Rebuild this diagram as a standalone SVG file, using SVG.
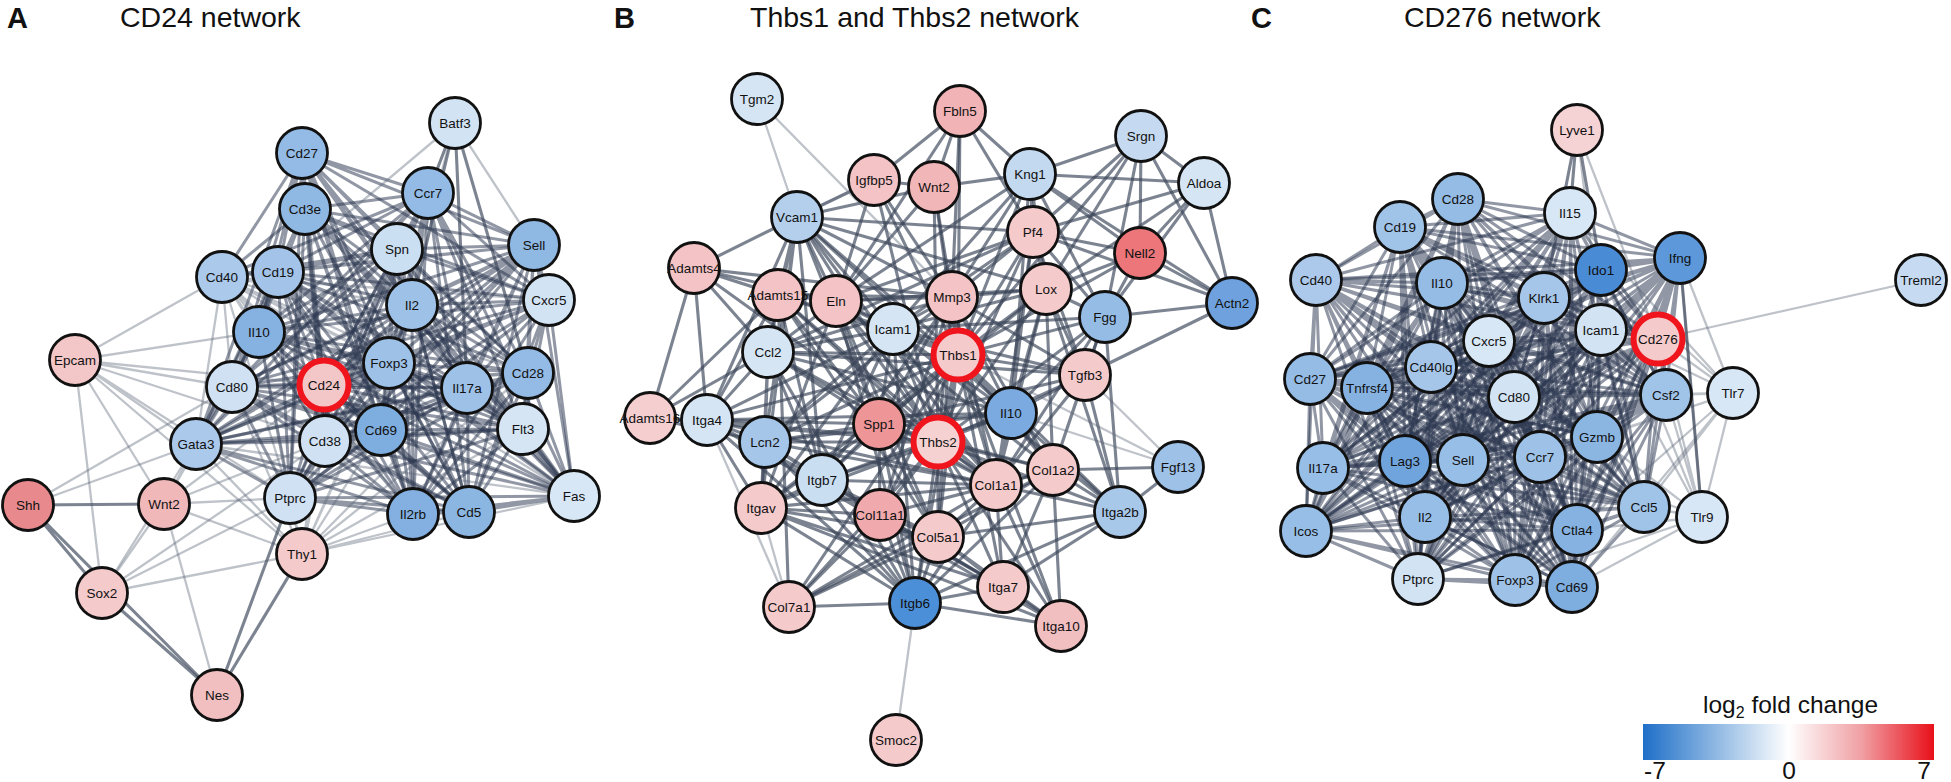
<svg xmlns="http://www.w3.org/2000/svg" width="1951" height="782" viewBox="0 0 1951 782">
<defs>
<linearGradient id="lfc" x1="0" y1="0" x2="1" y2="0">
<stop offset="0" stop-color="#1f6fc8"/>
<stop offset="0.25" stop-color="#8fb8e3"/>
<stop offset="0.5" stop-color="#ffffff"/>
<stop offset="0.75" stop-color="#f0a0a4"/>
<stop offset="1" stop-color="#e8101a"/>
</linearGradient>
<style>
text{font-family:"Liberation Sans",Arial,Helvetica,sans-serif;fill:#111}
.n circle{stroke:#111;stroke-width:2.8}
.n circle.hl{stroke:#f0141c;stroke-width:6}
.n text{font-size:13.5px;text-anchor:middle}
.ttl{font-size:28.5px}
.lt{font-size:29px;font-weight:bold}
.k{fill:none;stroke:#2c3850;stroke-opacity:.52;stroke-width:3;stroke-linejoin:round}
.m{fill:none;stroke:#3a4458;stroke-opacity:.66;stroke-width:3.1;stroke-linejoin:round}
.l{fill:none;stroke:#5d6677;stroke-opacity:.4;stroke-width:2.3;stroke-linejoin:round}
.leg{font-size:24.5px}
</style>
</defs>
<rect width="1951" height="782" fill="#fff"/>
<g id="titles">
<text class="lt" x="7" y="28">A</text>
<text class="ttl" x="120" y="27">CD24 network</text>
<text class="lt" x="614" y="28">B</text>
<text class="ttl" x="750" y="27">Thbs1 and Thbs2 network</text>
<text class="lt" x="1251" y="28">C</text>
<text class="ttl" x="1404" y="27">CD276 network</text>
</g>
<g id="connectors">
<g id="edges-A">
<path class="k" d="M305 209L302 153L428 193M397 249L302 153L534 245M222 277L302 153L278 272M412 305L302 153L549 300M259 332L302 153L389 363M528 373L302 153L232 387M324 385L302 153L467 388M325 441L302 153L381 430M523 429L302 153L290 498M413 514L302 153L469 512M574 496L302 153L196 444"/>
<path class="k" d="M428 193L305 209L397 249M534 245L305 209L222 277M278 272L305 209L412 305M549 300L305 209L259 332M389 363L305 209L528 373M232 387L305 209L324 385M467 388L305 209L325 441M381 430L305 209L523 429M290 498L305 209L413 514M469 512L305 209L574 496M196 444L305 209"/>
<path class="k" d="M397 249L428 193L534 245M222 277L428 193L278 272M412 305L428 193L549 300M259 332L428 193L389 363M528 373L428 193L232 387M324 385L428 193L467 388M325 441L428 193L381 430M523 429L428 193L290 498M413 514L428 193L469 512M574 496L428 193L196 444"/>
<path class="k" d="M534 245L397 249L222 277M278 272L397 249L412 305M549 300L397 249L259 332M389 363L397 249L528 373M232 387L397 249L324 385M467 388L397 249L325 441M381 430L397 249L523 429M290 498L397 249L413 514M469 512L397 249L574 496M196 444L397 249"/>
<path class="k" d="M222 277L534 245L278 272M412 305L534 245L549 300M259 332L534 245L389 363M528 373L534 245L232 387M324 385L534 245L467 388M325 441L534 245L381 430M523 429L534 245L290 498M413 514L534 245L469 512M574 496L534 245L196 444"/>
<path class="l" d="M278 272L222 277L412 305M549 300L222 277L259 332M389 363L222 277L528 373M232 387L222 277L324 385M467 388L222 277L325 441M381 430L222 277L523 429M290 498L222 277L413 514M469 512L222 277L574 496M196 444L222 277"/>
<path class="k" d="M412 305L278 272L549 300M259 332L278 272L389 363M528 373L278 272L232 387M324 385L278 272L467 388M325 441L278 272L381 430M523 429L278 272L290 498M413 514L278 272L469 512M574 496L278 272L196 444"/>
<path class="k" d="M549 300L412 305L259 332M389 363L412 305L528 373M232 387L412 305L324 385M467 388L412 305L325 441M381 430L412 305L523 429M290 498L412 305L413 514M469 512L412 305L574 496M196 444L412 305"/>
<path class="k" d="M259 332L549 300L389 363M528 373L549 300L232 387M324 385L549 300L467 388M325 441L549 300L381 430M523 429L549 300L290 498M413 514L549 300L469 512M574 496L549 300L196 444"/>
<path class="k" d="M389 363L259 332L528 373M232 387L259 332L324 385M467 388L259 332L325 441M381 430L259 332L523 429M290 498L259 332L413 514M469 512L259 332L574 496M196 444L259 332"/>
<path class="k" d="M528 373L389 363L232 387M324 385L389 363L467 388M325 441L389 363L381 430M523 429L389 363L290 498M413 514L389 363L469 512M574 496L389 363L196 444"/>
<path class="k" d="M232 387L528 373L324 385M467 388L528 373L325 441M381 430L528 373L523 429M290 498L528 373L413 514M469 512L528 373L574 496M196 444L528 373"/>
<path class="k" d="M324 385L232 387L467 388M325 441L232 387L381 430M523 429L232 387L290 498M413 514L232 387L469 512M574 496L232 387L196 444"/>
<path class="k" d="M467 388L324 385L325 441M381 430L324 385L523 429M290 498L324 385L413 514M469 512L324 385L574 496M196 444L324 385"/>
<path class="k" d="M325 441L467 388L381 430M523 429L467 388L290 498M413 514L467 388L469 512M574 496L467 388L196 444"/>
<path class="k" d="M381 430L325 441L523 429M290 498L325 441L413 514M469 512L325 441L574 496M196 444L325 441"/>
<path class="k" d="M523 429L381 430L290 498M413 514L381 430L469 512M574 496L381 430L196 444"/>
<path class="k" d="M290 498L523 429L413 514M469 512L523 429L574 496M196 444L523 429"/>
<path class="k" d="M413 514L290 498L469 512M574 496L290 498L196 444"/>
<path class="k" d="M469 512L413 514L574 496M196 444L413 514M574 496L469 512L196 444"/>
<path class="l" d="M196 444L574 496"/>
<path class="m" d="M428 193L455 123L412 305M528 373L455 123L467 388"/>
<path class="l" d="M278 272L455 123L534 245M389 363L455 123"/>
<path class="l" d="M222 277L75 360L232 387M324 385L75 360L196 444M164 504L75 360L102 593M290 498L75 360L325 441M259 332L75 360L302 554"/>
<path class="m" d="M164 504L28 505L102 593M217 695L28 505"/>
<path class="l" d="M196 444L28 505L232 387"/>
<path class="l" d="M196 444L164 504L232 387M290 498L164 504L302 554M102 593L164 504L217 695M325 441L164 504L324 385"/>
<path class="l" d="M196 444L102 593L290 498M302 554L102 593M325 441L102 593"/>
<path class="m" d="M102 593L217 695L290 498M302 554L217 695"/>
<path class="l" d="M325 441L302 554L381 430M413 514L302 554L469 512M389 363L302 554L324 385M467 388L302 554L574 496M523 429L302 554L528 373M196 444L302 554L290 498M412 305L302 554L232 387M259 332L302 554"/>
</g>
<g id="edges-B">
<path class="m" d="M960 111L958 355L934 187M874 180L958 355L1030 174M1033 232L958 355L952 297M1046 289L958 355L836 301M893 329L958 355L797 217M778 295L958 355L768 352M1085 375L958 355L1105 317M938 442L958 355L879 424M1011 413L958 355L996 485M1053 470L958 355L938 537M880 515L958 355L822 480M765 442L958 355L707 420M761 508L958 355L915 603M1003 587L958 355L1061 626M1120 512L958 355L789 607M1141 136L958 355L1140 253"/>
<path class="m" d="M952 297L938 442L836 301M893 329L938 442L768 352M879 424L938 442L1011 413M996 485L938 442L1053 470M938 537L938 442L880 515M822 480L938 442L765 442M707 420L938 442L761 508M915 603L938 442L1003 587M1061 626L938 442L1120 512M789 607L938 442L1085 375M1046 289L938 442L1033 232M797 217L938 442L778 295M650 418L938 442L1105 317M934 187L938 442L874 180"/>
<path class="m" d="M893 329L879 424L797 217M768 352L879 424L765 442M707 420L879 424L822 480M1011 413L879 424L952 297M836 301L879 424L996 485M1053 470L879 424L880 515M938 537L879 424L761 508M915 603L879 424L1085 375M1046 289L879 424L778 295"/>
<path class="m" d="M836 301L952 297L893 329M797 217L952 297L768 352M1046 289L952 297L1033 232M934 187L952 297L874 180M996 485L952 297L1053 470M1011 413L952 297L1085 375M765 442L952 297L822 480M778 295L952 297L694 268M960 111L952 297L1030 174M938 537L952 297L880 515"/>
<path class="m" d="M797 217L893 329L768 352M765 442L893 329L707 420M822 480L893 329L1011 413M836 301L893 329L778 295M1033 232L893 329L1105 317M1030 174L893 329L761 508M915 603L893 329L996 485M1046 289L893 329L1085 375M1120 512L893 329"/>
<path class="m" d="M707 420L797 217L822 480M768 352L797 217L836 301M778 295L797 217L694 268M765 442L797 217L1011 413M874 180L797 217L934 187M1033 232L797 217L1046 289M996 485L797 217L761 508"/>
<path class="m" d="M778 295L836 301L694 268M996 485L836 301L1053 470M1046 289L836 301L960 111M934 187L836 301L874 180M761 508L836 301L768 352M938 537L836 301L915 603M1030 174L836 301L1033 232"/>
<path class="m" d="M694 268L778 295L768 352M996 485L778 295L938 537M707 420L778 295L650 418M789 607L778 295L822 480"/>
<path class="m" d="M650 418L694 268L707 420M768 352L694 268L996 485"/>
<path class="m" d="M707 420L650 418L768 352M765 442L650 418"/>
<path class="m" d="M765 442L768 352L707 420M822 480L768 352L1011 413M1033 232L768 352L996 485M1085 375L768 352L761 508M915 603L768 352"/>
<path class="m" d="M765 442L707 420L822 480M761 508L707 420L915 603M996 485L707 420L1003 587M1061 626L707 420M1011 413L707 420"/>
<path class="l" d="M789 607L707 420"/>
<path class="m" d="M822 480L765 442L1011 413M996 485L765 442L915 603M761 508L765 442L880 515"/>
<path class="m" d="M996 485L822 480L915 603M761 508L822 480L1011 413M880 515L822 480L938 537M1003 587L822 480"/>
<path class="m" d="M915 603L761 508L996 485M938 537L761 508L1003 587M1061 626L761 508L880 515"/>
<path class="l" d="M789 607L761 508"/>
<path class="m" d="M996 485L880 515L1053 470M938 537L880 515L789 607M915 603L880 515L1003 587"/>
<path class="m" d="M996 485L938 537L1053 470M789 607L938 537L915 603M1003 587L938 537L1061 626M1120 512L938 537"/>
<path class="m" d="M1053 470L996 485L789 607M915 603L996 485L1003 587M1061 626L996 485L1120 512M1011 413L996 485L1085 375M1046 289L996 485L1033 232M1105 317L996 485"/>
<path class="m" d="M789 607L1053 470L915 603M1003 587L1053 470L1061 626M1120 512L1053 470L1011 413M1085 375L1053 470L1046 289M1105 317L1053 470L1178 467"/>
<path class="m" d="M1003 587L915 603L1061 626M789 607L915 603L1120 512M1061 626L1003 587L1120 512"/>
<path class="m" d="M1085 375L1011 413L1046 289M1033 232L1011 413L1105 317M1030 174L1011 413L1120 512"/>
<path class="m" d="M1046 289L1085 375L1105 317M1120 512L1085 375L1033 232M1232 303L1085 375"/>
<path class="m" d="M1141 136L1105 317L1030 174M1033 232L1105 317L1046 289M1140 253L1105 317L1204 183M1232 303L1105 317L1120 512"/>
<path class="m" d="M1033 232L1046 289L1030 174M1141 136L1046 289L1204 183M1140 253L1046 289L1120 512"/>
<path class="m" d="M1030 174L1033 232L1141 136M1204 183L1033 232L1140 253M1232 303L1033 232L960 111"/>
<path class="m" d="M1141 136L1030 174L1204 183M960 111L1030 174L934 187M1140 253L1030 174L1232 303"/>
<path class="m" d="M1204 183L1141 136L1140 253M1232 303L1141 136M1140 253L1204 183L1232 303M1232 303L1140 253"/>
<path class="m" d="M934 187L960 111L874 180L934 187M1178 467L1120 512"/>
<path class="l" d="M757 99L797 217M757 99L952 297M896 740L915 603M1085 375L1178 467M1011 413L1178 467M874 180L797 217M958 355L1178 467"/>
</g>
<g id="edges-C">
<path class="k" d="M1570 213L1458 199L1400 227M1680 258L1458 199L1601 270M1316 280L1458 199L1442 283M1544 298L1458 199L1601 330M1658 339L1458 199L1489 341M1431 367L1458 199L1310 379M1367 388L1458 199L1514 397M1666 395L1458 199L1597 437M1540 457L1458 199L1323 468M1405 461L1458 199L1463 460M1644 507L1458 199L1425 517M1306 531L1458 199L1577 530M1418 579L1458 199L1515 580M1572 587L1458 199"/>
<path class="k" d="M1400 227L1570 213L1680 258M1601 270L1570 213L1316 280M1442 283L1570 213L1544 298M1601 330L1570 213L1658 339M1489 341L1570 213L1431 367M1310 379L1570 213L1367 388M1514 397L1570 213L1666 395M1597 437L1570 213L1540 457M1323 468L1570 213L1405 461M1463 460L1570 213L1644 507M1425 517L1570 213L1306 531M1577 530L1570 213L1418 579M1515 580L1570 213L1572 587"/>
<path class="k" d="M1680 258L1400 227L1601 270M1316 280L1400 227L1442 283M1544 298L1400 227L1601 330M1658 339L1400 227L1489 341M1431 367L1400 227L1310 379M1367 388L1400 227L1514 397M1666 395L1400 227L1597 437M1540 457L1400 227L1323 468M1405 461L1400 227L1463 460M1644 507L1400 227L1425 517M1306 531L1400 227L1577 530M1418 579L1400 227L1515 580M1572 587L1400 227"/>
<path class="k" d="M1601 270L1680 258L1316 280M1442 283L1680 258L1544 298M1601 330L1680 258L1658 339M1489 341L1680 258L1431 367M1310 379L1680 258L1367 388M1514 397L1680 258L1666 395M1597 437L1680 258L1540 457M1323 468L1680 258L1405 461M1463 460L1680 258L1644 507M1425 517L1680 258L1306 531M1577 530L1680 258L1418 579M1515 580L1680 258L1572 587"/>
<path class="k" d="M1316 280L1601 270L1442 283M1544 298L1601 270L1601 330M1658 339L1601 270L1489 341M1431 367L1601 270L1310 379M1367 388L1601 270L1514 397M1666 395L1601 270L1597 437M1540 457L1601 270L1323 468M1405 461L1601 270L1463 460M1644 507L1601 270L1425 517M1306 531L1601 270L1577 530M1418 579L1601 270L1515 580M1572 587L1601 270"/>
<path class="k" d="M1442 283L1316 280L1544 298M1601 330L1316 280L1658 339M1489 341L1316 280L1431 367M1310 379L1316 280L1367 388M1514 397L1316 280L1666 395M1597 437L1316 280L1540 457M1323 468L1316 280L1405 461M1463 460L1316 280L1644 507M1425 517L1316 280L1306 531M1577 530L1316 280L1418 579M1515 580L1316 280L1572 587"/>
<path class="k" d="M1544 298L1442 283L1601 330M1658 339L1442 283L1489 341M1431 367L1442 283L1310 379M1367 388L1442 283L1514 397M1666 395L1442 283L1597 437M1540 457L1442 283L1323 468M1405 461L1442 283L1463 460M1644 507L1442 283L1425 517M1306 531L1442 283L1577 530M1418 579L1442 283L1515 580M1572 587L1442 283"/>
<path class="k" d="M1601 330L1544 298L1658 339M1489 341L1544 298L1431 367M1310 379L1544 298L1367 388M1514 397L1544 298L1666 395M1597 437L1544 298L1540 457M1323 468L1544 298L1405 461M1463 460L1544 298L1644 507M1425 517L1544 298L1306 531M1577 530L1544 298L1418 579M1515 580L1544 298L1572 587"/>
<path class="k" d="M1658 339L1601 330L1489 341M1431 367L1601 330L1310 379M1367 388L1601 330L1514 397M1666 395L1601 330L1597 437M1540 457L1601 330L1323 468M1405 461L1601 330L1463 460M1644 507L1601 330L1425 517M1306 531L1601 330L1577 530M1418 579L1601 330L1515 580M1572 587L1601 330"/>
<path class="k" d="M1489 341L1658 339L1431 367M1310 379L1658 339L1367 388M1514 397L1658 339L1666 395M1597 437L1658 339L1540 457M1323 468L1658 339L1405 461M1463 460L1658 339L1644 507M1425 517L1658 339L1306 531M1577 530L1658 339L1418 579M1515 580L1658 339L1572 587"/>
<path class="k" d="M1431 367L1489 341L1310 379M1367 388L1489 341L1514 397M1666 395L1489 341L1597 437M1540 457L1489 341L1323 468M1405 461L1489 341L1463 460M1644 507L1489 341L1425 517M1306 531L1489 341L1577 530M1418 579L1489 341L1515 580M1572 587L1489 341"/>
<path class="k" d="M1310 379L1431 367L1367 388M1514 397L1431 367L1666 395M1597 437L1431 367L1540 457M1323 468L1431 367L1405 461M1463 460L1431 367L1644 507M1425 517L1431 367L1306 531M1577 530L1431 367L1418 579M1515 580L1431 367L1572 587"/>
<path class="k" d="M1367 388L1310 379L1514 397M1666 395L1310 379L1597 437M1540 457L1310 379L1323 468M1405 461L1310 379L1463 460M1644 507L1310 379L1425 517M1306 531L1310 379L1577 530M1418 579L1310 379L1515 580M1572 587L1310 379"/>
<path class="k" d="M1514 397L1367 388L1666 395M1597 437L1367 388L1540 457M1323 468L1367 388L1405 461M1463 460L1367 388L1644 507M1425 517L1367 388L1306 531M1577 530L1367 388L1418 579M1515 580L1367 388L1572 587"/>
<path class="k" d="M1666 395L1514 397L1597 437M1540 457L1514 397L1323 468M1405 461L1514 397L1463 460M1644 507L1514 397L1425 517M1306 531L1514 397L1577 530M1418 579L1514 397L1515 580M1572 587L1514 397"/>
<path class="k" d="M1597 437L1666 395L1540 457M1323 468L1666 395L1405 461M1463 460L1666 395L1644 507M1425 517L1666 395L1306 531M1577 530L1666 395L1418 579M1515 580L1666 395L1572 587"/>
<path class="k" d="M1540 457L1597 437L1323 468M1405 461L1597 437L1463 460M1644 507L1597 437L1425 517M1306 531L1597 437L1577 530M1418 579L1597 437L1515 580M1572 587L1597 437"/>
<path class="k" d="M1323 468L1540 457L1405 461M1463 460L1540 457L1644 507M1425 517L1540 457L1306 531M1577 530L1540 457L1418 579M1515 580L1540 457L1572 587"/>
<path class="k" d="M1405 461L1323 468L1463 460M1644 507L1323 468L1425 517M1306 531L1323 468L1577 530M1418 579L1323 468L1515 580M1572 587L1323 468"/>
<path class="k" d="M1463 460L1405 461L1644 507M1425 517L1405 461L1306 531M1577 530L1405 461L1418 579M1515 580L1405 461L1572 587"/>
<path class="k" d="M1644 507L1463 460L1425 517M1306 531L1463 460L1577 530M1418 579L1463 460L1515 580M1572 587L1463 460"/>
<path class="k" d="M1425 517L1644 507L1306 531M1577 530L1644 507L1418 579M1515 580L1644 507L1572 587"/>
<path class="k" d="M1306 531L1425 517L1577 530M1418 579L1425 517L1515 580M1572 587L1425 517"/>
<path class="k" d="M1577 530L1306 531L1418 579M1515 580L1306 531L1572 587"/>
<path class="k" d="M1418 579L1577 530L1515 580M1572 587L1577 530M1515 580L1418 579L1572 587M1572 587L1515 580"/>
<path class="l" d="M1680 258L1733 393L1658 339M1601 330L1733 393L1601 270M1666 395L1733 393L1597 437M1644 507L1733 393L1577 530M1572 587L1733 393L1540 457M1514 397L1733 393L1702 517M1570 213L1733 393"/>
<path class="l" d="M1680 258L1702 517L1658 339M1666 395L1702 517L1644 507M1577 530L1702 517L1572 587M1597 437L1702 517L1601 330M1540 457L1702 517L1601 270M1515 580L1702 517"/>
<path class="m" d="M1680 258L1702 517"/>
<path class="m" d="M1570 213L1577 130L1544 298M1601 270L1577 130"/>
<path class="l" d="M1601 330L1577 130L1658 339M1921 280L1658 339"/>
</g>
</g>
<g id="nodes-A">
<g id="A-Batf3" class="n"><circle cx="455" cy="123" r="25.5" fill="#d2e3f4"/><text x="455" y="127.8">Batf3</text></g>
<g id="A-Cd27" class="n"><circle cx="302" cy="153" r="25.5" fill="#93bbe5"/><text x="302" y="157.8">Cd27</text></g>
<g id="A-Ccr7" class="n"><circle cx="428" cy="193" r="25.5" fill="#93bbe5"/><text x="428" y="197.8">Ccr7</text></g>
<g id="A-Cd3e" class="n"><circle cx="305" cy="209" r="25.5" fill="#8fb8e3"/><text x="305" y="213.8">Cd3e</text></g>
<g id="A-Spn" class="n"><circle cx="397" cy="249" r="25.5" fill="#cbdff2"/><text x="397" y="253.8">Spn</text></g>
<g id="A-Sell" class="n"><circle cx="534" cy="245" r="25.5" fill="#8fb8e3"/><text x="534" y="249.8">Sell</text></g>
<g id="A-Cd40" class="n"><circle cx="222" cy="277" r="25.5" fill="#aac9eb"/><text x="222" y="281.8">Cd40</text></g>
<g id="A-Cd19" class="n"><circle cx="278" cy="272" r="25.5" fill="#a3c4e8"/><text x="278" y="276.8">Cd19</text></g>
<g id="A-Il2" class="n"><circle cx="412" cy="305" r="25.5" fill="#9ec2e7"/><text x="412" y="309.8">Il2</text></g>
<g id="A-Cxcr5" class="n"><circle cx="549" cy="300" r="25.5" fill="#d2e3f4"/><text x="549" y="304.8">Cxcr5</text></g>
<g id="A-Il10" class="n"><circle cx="259" cy="332" r="25.5" fill="#86b2e1"/><text x="259" y="336.8">Il10</text></g>
<g id="A-Epcam" class="n"><circle cx="75" cy="360" r="25.5" fill="#f3c6c7"/><text x="75" y="364.8">Epcam</text></g>
<g id="A-Foxp3" class="n"><circle cx="389" cy="363" r="25.5" fill="#9ec2e7"/><text x="389" y="367.8">Foxp3</text></g>
<g id="A-Cd28" class="n"><circle cx="528" cy="373" r="25.5" fill="#93bbe5"/><text x="528" y="377.8">Cd28</text></g>
<g id="A-Cd80" class="n"><circle cx="232" cy="387" r="25.5" fill="#cfe1f3"/><text x="232" y="391.8">Cd80</text></g>
<g id="A-Cd24" class="n"><circle class="hl" cx="324" cy="385" r="24.5" fill="#f3c6c7"/><text x="324" y="389.8">Cd24</text></g>
<g id="A-Il17a" class="n"><circle cx="467" cy="388" r="25.5" fill="#9ec2e7"/><text x="467" y="392.8">Il17a</text></g>
<g id="A-Gata3" class="n"><circle cx="196" cy="444" r="25.5" fill="#aac9eb"/><text x="196" y="448.8">Gata3</text></g>
<g id="A-Cd38" class="n"><circle cx="325" cy="441" r="25.5" fill="#cfe1f3"/><text x="325" y="445.8">Cd38</text></g>
<g id="A-Cd69" class="n"><circle cx="381" cy="430" r="25.5" fill="#7eaddf"/><text x="381" y="434.8">Cd69</text></g>
<g id="A-Flt3" class="n"><circle cx="523" cy="429" r="25.5" fill="#d5e5f4"/><text x="523" y="433.8">Flt3</text></g>
<g id="A-Shh" class="n"><circle cx="28" cy="505" r="25.5" fill="#e88a8d"/><text x="28" y="509.8">Shh</text></g>
<g id="A-Wnt2" class="n"><circle cx="164" cy="504" r="25.5" fill="#f1b8ba"/><text x="164" y="508.8">Wnt2</text></g>
<g id="A-Ptprc" class="n"><circle cx="290" cy="498" r="25.5" fill="#cfe1f3"/><text x="290" y="502.8">Ptprc</text></g>
<g id="A-Il2rb" class="n"><circle cx="413" cy="514" r="25.5" fill="#83b0e0"/><text x="413" y="518.8">Il2rb</text></g>
<g id="A-Cd5" class="n"><circle cx="469" cy="512" r="25.5" fill="#8cb6e2"/><text x="469" y="516.8">Cd5</text></g>
<g id="A-Fas" class="n"><circle cx="574" cy="496" r="25.5" fill="#d8e7f5"/><text x="574" y="500.8">Fas</text></g>
<g id="A-Thy1" class="n"><circle cx="302" cy="554" r="25.5" fill="#f4cacb"/><text x="302" y="558.8">Thy1</text></g>
<g id="A-Sox2" class="n"><circle cx="102" cy="593" r="25.5" fill="#f4cacb"/><text x="102" y="597.8">Sox2</text></g>
<g id="A-Nes" class="n"><circle cx="217" cy="695" r="25.5" fill="#f2bfc1"/><text x="217" y="699.8">Nes</text></g>
</g>
<g id="nodes-B">
<g id="B-Tgm2" class="n"><circle cx="757" cy="99" r="25.5" fill="#d5e5f4"/><text x="757" y="103.8">Tgm2</text></g>
<g id="B-Fbln5" class="n"><circle cx="960" cy="111" r="25.5" fill="#f1b3b5"/><text x="960" y="115.8">Fbln5</text></g>
<g id="B-Igfbp5" class="n"><circle cx="874" cy="180" r="25.5" fill="#f3c3c5"/><text x="874" y="184.8">Igfbp5</text></g>
<g id="B-Wnt2" class="n"><circle cx="934" cy="187" r="25.5" fill="#f1b6b8"/><text x="934" y="191.8">Wnt2</text></g>
<g id="B-Kng1" class="n"><circle cx="1030" cy="174" r="25.5" fill="#c3d9f0"/><text x="1030" y="178.8">Kng1</text></g>
<g id="B-Srgn" class="n"><circle cx="1141" cy="136" r="25.5" fill="#c5daf0"/><text x="1141" y="140.8">Srgn</text></g>
<g id="B-Aldoa" class="n"><circle cx="1204" cy="183" r="25.5" fill="#d5e5f4"/><text x="1204" y="187.8">Aldoa</text></g>
<g id="B-Vcam1" class="n"><circle cx="797" cy="217" r="25.5" fill="#b3cfec"/><text x="797" y="221.8">Vcam1</text></g>
<g id="B-Pf4" class="n"><circle cx="1033" cy="232" r="25.5" fill="#f4cacb"/><text x="1033" y="236.8">Pf4</text></g>
<g id="B-Nell2" class="n"><circle cx="1140" cy="253" r="25.5" fill="#ec7679"/><text x="1140" y="257.8">Nell2</text></g>
<g id="B-Adamts4" class="n"><circle cx="694" cy="268" r="25.5" fill="#f3c3c5"/><text x="694" y="272.8">Adamts4</text></g>
<g id="B-Adamts15" class="n"><circle cx="778" cy="295" r="25.5" fill="#f3c3c5"/><text x="778" y="299.8">Adamts15</text></g>
<g id="B-Eln" class="n"><circle cx="836" cy="301" r="25.5" fill="#f3c3c5"/><text x="836" y="305.8">Eln</text></g>
<g id="B-Mmp3" class="n"><circle cx="952" cy="297" r="25.5" fill="#f3c3c5"/><text x="952" y="301.8">Mmp3</text></g>
<g id="B-Lox" class="n"><circle cx="1046" cy="289" r="25.5" fill="#f4cacb"/><text x="1046" y="293.8">Lox</text></g>
<g id="B-Actn2" class="n"><circle cx="1232" cy="303" r="25.5" fill="#6ea1dd"/><text x="1232" y="307.8">Actn2</text></g>
<g id="B-Fgg" class="n"><circle cx="1105" cy="317" r="25.5" fill="#95bce5"/><text x="1105" y="321.8">Fgg</text></g>
<g id="B-Icam1" class="n"><circle cx="893" cy="329" r="25.5" fill="#d5e5f4"/><text x="893" y="333.8">Icam1</text></g>
<g id="B-Ccl2" class="n"><circle cx="768" cy="352" r="25.5" fill="#d5e5f4"/><text x="768" y="356.8">Ccl2</text></g>
<g id="B-Thbs1" class="n"><circle class="hl" cx="958" cy="355" r="24.5" fill="#f4cacb"/><text x="958" y="359.8">Thbs1</text></g>
<g id="B-Tgfb3" class="n"><circle cx="1085" cy="375" r="25.5" fill="#f4cacb"/><text x="1085" y="379.8">Tgfb3</text></g>
<g id="B-Adamts16" class="n"><circle cx="650" cy="418" r="25.5" fill="#f5cfd0"/><text x="650" y="422.8">Adamts16</text></g>
<g id="B-Itga4" class="n"><circle cx="707" cy="420" r="25.5" fill="#d5e5f4"/><text x="707" y="424.8">Itga4</text></g>
<g id="B-Lcn2" class="n"><circle cx="765" cy="442" r="25.5" fill="#a5c6e9"/><text x="765" y="446.8">Lcn2</text></g>
<g id="B-Spp1" class="n"><circle cx="879" cy="424" r="25.5" fill="#ee9598"/><text x="879" y="428.8">Spp1</text></g>
<g id="B-Thbs2" class="n"><circle class="hl" cx="938" cy="442" r="24.5" fill="#f5d1d2"/><text x="938" y="446.8">Thbs2</text></g>
<g id="B-Il10" class="n"><circle cx="1011" cy="413" r="25.5" fill="#7aaadf"/><text x="1011" y="417.8">Il10</text></g>
<g id="B-Col1a2" class="n"><circle cx="1053" cy="470" r="25.5" fill="#f4cacb"/><text x="1053" y="474.8">Col1a2</text></g>
<g id="B-Fgf13" class="n"><circle cx="1178" cy="467" r="25.5" fill="#9dc1e7"/><text x="1178" y="471.8">Fgf13</text></g>
<g id="B-Itgb7" class="n"><circle cx="822" cy="480" r="25.5" fill="#cadef2"/><text x="822" y="484.8">Itgb7</text></g>
<g id="B-Col1a1" class="n"><circle cx="996" cy="485" r="25.5" fill="#f4cacb"/><text x="996" y="489.8">Col1a1</text></g>
<g id="B-Itgav" class="n"><circle cx="761" cy="508" r="25.5" fill="#f4cacb"/><text x="761" y="512.8">Itgav</text></g>
<g id="B-Col11a1" class="n"><circle cx="880" cy="515" r="25.5" fill="#f0a9ac"/><text x="880" y="519.8">Col11a1</text></g>
<g id="B-Itga2b" class="n"><circle cx="1120" cy="512" r="25.5" fill="#a8c8ea"/><text x="1120" y="516.8">Itga2b</text></g>
<g id="B-Col5a1" class="n"><circle cx="938" cy="537" r="25.5" fill="#f4cacb"/><text x="938" y="541.8">Col5a1</text></g>
<g id="B-Itga7" class="n"><circle cx="1003" cy="587" r="25.5" fill="#f4cacb"/><text x="1003" y="591.8">Itga7</text></g>
<g id="B-Col7a1" class="n"><circle cx="789" cy="607" r="25.5" fill="#f4cacb"/><text x="789" y="611.8">Col7a1</text></g>
<g id="B-Itgb6" class="n"><circle cx="915" cy="603" r="25.5" fill="#4b8fd8"/><text x="915" y="607.8">Itgb6</text></g>
<g id="B-Itga10" class="n"><circle cx="1061" cy="626" r="25.5" fill="#f2bfc1"/><text x="1061" y="630.8">Itga10</text></g>
<g id="B-Smoc2" class="n"><circle cx="896" cy="740" r="25.5" fill="#f4cacb"/><text x="896" y="744.8">Smoc2</text></g>
</g>
<g id="nodes-C">
<g id="C-Lyve1" class="n"><circle cx="1577" cy="130" r="25.5" fill="#f5d3d4"/><text x="1577" y="134.8">Lyve1</text></g>
<g id="C-Cd28" class="n"><circle cx="1458" cy="199" r="25.5" fill="#95bce5"/><text x="1458" y="203.8">Cd28</text></g>
<g id="C-Il15" class="n"><circle cx="1570" cy="213" r="25.5" fill="#d8e7f5"/><text x="1570" y="217.8">Il15</text></g>
<g id="C-Cd19" class="n"><circle cx="1400" cy="227" r="25.5" fill="#a0c3e8"/><text x="1400" y="231.8">Cd19</text></g>
<g id="C-Ifng" class="n"><circle cx="1680" cy="258" r="25.5" fill="#5c98da"/><text x="1680" y="262.8">Ifng</text></g>
<g id="C-Ido1" class="n"><circle cx="1601" cy="270" r="25.5" fill="#4a8bd6"/><text x="1601" y="274.8">Ido1</text></g>
<g id="C-Treml2" class="n"><circle cx="1921" cy="280" r="25.5" fill="#c6dbf1"/><text x="1921" y="284.8">Treml2</text></g>
<g id="C-Cd40" class="n"><circle cx="1316" cy="280" r="25.5" fill="#acc9eb"/><text x="1316" y="284.8">Cd40</text></g>
<g id="C-Il10" class="n"><circle cx="1442" cy="283" r="25.5" fill="#95bce5"/><text x="1442" y="287.8">Il10</text></g>
<g id="C-Klrk1" class="n"><circle cx="1544" cy="298" r="25.5" fill="#a5c6e9"/><text x="1544" y="302.8">Klrk1</text></g>
<g id="C-Icam1" class="n"><circle cx="1601" cy="330" r="25.5" fill="#d2e3f4"/><text x="1601" y="334.8">Icam1</text></g>
<g id="C-Cd276" class="n"><circle class="hl" cx="1658" cy="339" r="24.5" fill="#f4cacb"/><text x="1658" y="343.8">Cd276</text></g>
<g id="C-Cxcr5" class="n"><circle cx="1489" cy="341" r="25.5" fill="#d8e7f5"/><text x="1489" y="345.8">Cxcr5</text></g>
<g id="C-Cd40lg" class="n"><circle cx="1431" cy="367" r="25.5" fill="#a5c6e9"/><text x="1431" y="371.8">Cd40lg</text></g>
<g id="C-Cd27" class="n"><circle cx="1310" cy="379" r="25.5" fill="#95bce5"/><text x="1310" y="383.8">Cd27</text></g>
<g id="C-Tnfrsf4" class="n"><circle cx="1367" cy="388" r="25.5" fill="#86b2e1"/><text x="1367" y="392.8">Tnfrsf4</text></g>
<g id="C-Cd80" class="n"><circle cx="1514" cy="397" r="25.5" fill="#d2e3f4"/><text x="1514" y="401.8">Cd80</text></g>
<g id="C-Csf2" class="n"><circle cx="1666" cy="395" r="25.5" fill="#a0c3e8"/><text x="1666" y="399.8">Csf2</text></g>
<g id="C-Tlr7" class="n"><circle cx="1733" cy="393" r="25.5" fill="#d8e7f5"/><text x="1733" y="397.8">Tlr7</text></g>
<g id="C-Gzmb" class="n"><circle cx="1597" cy="437" r="25.5" fill="#8cb6e2"/><text x="1597" y="441.8">Gzmb</text></g>
<g id="C-Ccr7" class="n"><circle cx="1540" cy="457" r="25.5" fill="#9ec2e7"/><text x="1540" y="461.8">Ccr7</text></g>
<g id="C-Il17a" class="n"><circle cx="1323" cy="468" r="25.5" fill="#97bee6"/><text x="1323" y="472.8">Il17a</text></g>
<g id="C-Lag3" class="n"><circle cx="1405" cy="461" r="25.5" fill="#70a4dd"/><text x="1405" y="465.8">Lag3</text></g>
<g id="C-Sell" class="n"><circle cx="1463" cy="460" r="25.5" fill="#97bee6"/><text x="1463" y="464.8">Sell</text></g>
<g id="C-Ccl5" class="n"><circle cx="1644" cy="507" r="25.5" fill="#a0c3e8"/><text x="1644" y="511.8">Ccl5</text></g>
<g id="C-Tlr9" class="n"><circle cx="1702" cy="517" r="25.5" fill="#d8e7f5"/><text x="1702" y="521.8">Tlr9</text></g>
<g id="C-Il2" class="n"><circle cx="1425" cy="517" r="25.5" fill="#97bee6"/><text x="1425" y="521.8">Il2</text></g>
<g id="C-Icos" class="n"><circle cx="1306" cy="531" r="25.5" fill="#97bee6"/><text x="1306" y="535.8">Icos</text></g>
<g id="C-Ctla4" class="n"><circle cx="1577" cy="530" r="25.5" fill="#86b2e1"/><text x="1577" y="534.8">Ctla4</text></g>
<g id="C-Ptprc" class="n"><circle cx="1418" cy="579" r="25.5" fill="#d2e3f4"/><text x="1418" y="583.8">Ptprc</text></g>
<g id="C-Foxp3" class="n"><circle cx="1515" cy="580" r="25.5" fill="#9ec2e7"/><text x="1515" y="584.8">Foxp3</text></g>
<g id="C-Cd69" class="n"><circle cx="1572" cy="587" r="25.5" fill="#7eaddf"/><text x="1572" y="591.8">Cd69</text></g>
</g>
<g id="legend">
<text class="leg" x="1703" y="713">log<tspan font-size="16" dy="5">2</tspan><tspan dy="-5"> fold change</tspan></text>
<rect x="1643" y="724" width="291" height="36" fill="url(#lfc)"/>
<text class="leg" x="1644" y="779">-7</text>
<text class="leg" x="1789" y="779" text-anchor="middle">0</text>
<text class="leg" x="1924" y="779" text-anchor="middle">7</text>
</g>
</svg>
